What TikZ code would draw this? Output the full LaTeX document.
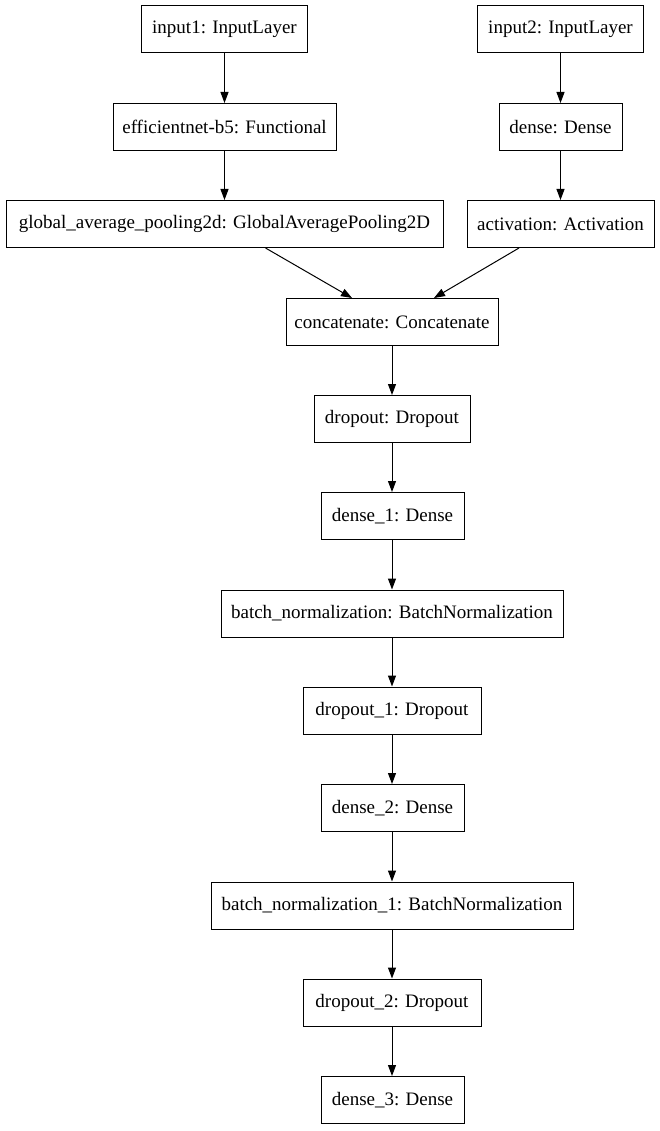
\documentclass[tikz,border=0pt]{standalone}
\usepackage{fontspec}
\setmainfont{Liberation Serif}
\usetikzlibrary{arrows.meta,calc}
\begin{document}
\begin{tikzpicture}[x=1pt,y=-1pt,
  layer/.style={draw=black,line width=1pt,minimum height=47pt,inner sep=0pt,font=\fontsize{19}{21}\selectfont},
  edge/.style={line width=1pt,-{Triangle[length=11pt,width=8pt]}}]
\useasboundingbox (0,0) rectangle (659,1131);
\node[layer,minimum width=166pt] (in1) at (224.5,29.5) {input1: InputLayer};
\node[layer,minimum width=166pt] (in2) at (560.5,29.5) {input2: InputLayer};
\node[layer,minimum width=223pt] (eff) at (224.5,127) {efficientnet-b5: Functional};
\node[layer,minimum width=123pt] (dense) at (560.5,127) {dense: Dense};
\node[layer,minimum width=437pt] (gap) at (224.5,224) {global\_average\_pooling2d: GlobalAveragePooling2D};
\node[layer,minimum width=187pt] (act) at (560.5,224) {activation: Activation};
\node[layer,minimum width=212pt] (cat) at (392,322) {concatenate: Concatenate};
\node[layer,minimum width=156pt] (do) at (392,419) {dropout: Dropout};
\node[layer,minimum width=143pt] (d1) at (392.5,516) {dense\_1: Dense};
\node[layer,minimum width=342pt] (bn) at (392,613.5) {batch\_normalization: BatchNormalization};
\node[layer,minimum width=178pt] (do1) at (392,710.5) {dropout\_1: Dropout};
\node[layer,minimum width=143pt] (d2) at (392.5,808) {dense\_2: Dense};
\node[layer,minimum width=362pt] (bn1) at (392,905.5) {batch\_normalization\_1: BatchNormalization};
\node[layer,minimum width=178pt] (do2) at (392,1002.5) {dropout\_2: Dropout};
\node[layer,minimum width=143pt] (d3) at (392.5,1100) {dense\_3: Dense};
\draw[edge] (in1) -- (eff);
\draw[edge] (in2) -- (dense);
\draw[edge] (eff) -- (gap);
\draw[edge] (dense) -- (act);
\draw[edge] ($(gap.south)+(41,0)$) -- ($(cat.north)+(-40,0)$);
\draw[edge] ($(act.south)+(-41.5,0)$) -- ($(cat.north)+(42,0)$);
\draw[edge] (cat) -- (do);
\draw[edge] (do) -- (do |- d1.north);
\draw[edge] (d1.south -| do) -- (do |- bn.north);
\draw[edge] (bn) -- (do1);
\draw[edge] (do1) -- (do1 |- d2.north);
\draw[edge] (d2.south -| do1) -- (do1 |- bn1.north);
\draw[edge] (bn1) -- (do2);
\draw[edge] (do2) -- (do2 |- d3.north);
\end{tikzpicture}
\end{document}
